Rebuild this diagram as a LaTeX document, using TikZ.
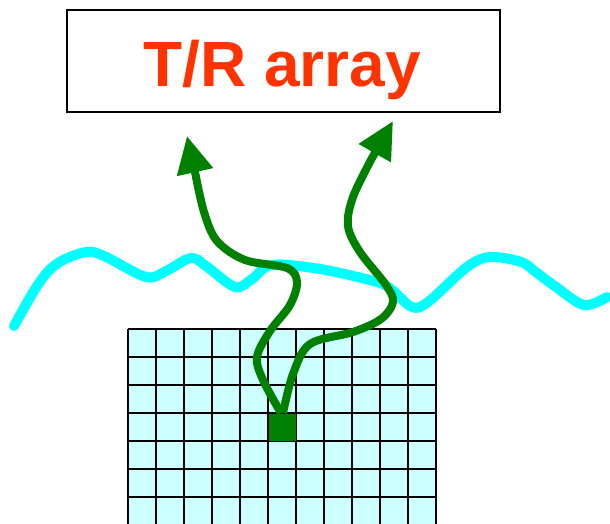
\documentclass[tikz,border=0pt]{standalone}
\usepackage{fontspec}
\setmainfont{Liberation Sans}
\usetikzlibrary{arrows.meta}
\definecolor{titlered}{HTML}{FF3300}
\definecolor{gridfill}{HTML}{CCFFFF}
\definecolor{wave}{HTML}{00FFFF}
\definecolor{raygreen}{HTML}{008000}
\tikzset{
  titlebox/.style={draw=black, line width=1.3pt, minimum width=433pt, minimum height=102pt, inner sep=0pt},
  gridline/.style={draw=black, line width=2pt},
  wavepath/.style={draw=wave, line width=10pt, line cap=round, line join=round},
  ray/.style={draw=raygreen, line width=8pt, line join=round, -{Triangle[length=37pt,width=35pt]}},
  cellmark/.style={fill=raygreen, draw=black, line width=1pt, minimum size=28pt, inner sep=0pt}
}
\begin{document}
\begin{tikzpicture}[x=1pt,y=-1pt]
\useasboundingbox (0,0) rectangle (610,523);
% title box
\node[titlebox] (box) at (283.5,61) {};
\node[anchor=base, text=titlered, font=\bfseries\fontsize{64}{68}\selectfont] (title) at (282,86) {T/R array};
% grid
\begin{scope}
\clip (0,0) rectangle (610,523);
\fill[gridfill] (128,329) rectangle (436,560);
\foreach \i in {0,...,11} {
  \draw[gridline] ({128+\i*28},329) -- ({128+\i*28},560);
}
\foreach \j in {0,...,8} {
  \draw[gridline] (128,{329+\j*28}) -- (436,{329+\j*28});
}
\end{scope}
% source cell
\node[cellmark] (cell) at ({128+5.5*28},{329+3.5*28}) {};
% wave
\draw[wavepath] plot[smooth, tension=0.55] coordinates {
 (14,326) (39,283) (58,263) (86,252) (104,256) (146,277) (166,271) (191,258) (206,266) (235,287) (252,279) (272,265) (320,269) (377,282) (392,290) (412,307) (428,302) (467,267) (490,257) (521,262) (537,273) (556,287) (584,305) (607,297)};
% rays
\coordinate (tipL) at (187,136);
\coordinate (tipR) at (393,121);
\draw[ray] (cell.north) plot[smooth, tension=0.55] coordinates {
 (281,413) (263,380) (257,357) (270,331) (290,305) (297,282) (287,268) (245,260) (217,241) (204,212) (195,172)} -- (tipL);
\draw[ray] (cell.north) plot[smooth, tension=0.55] coordinates {
 (283,413) (293,374) (310,344) (353,332) (381,319) (393,302) (386,285) (360,252) (348,226) (353,197) (372,158)} -- (tipR);
\end{tikzpicture}
\end{document}
